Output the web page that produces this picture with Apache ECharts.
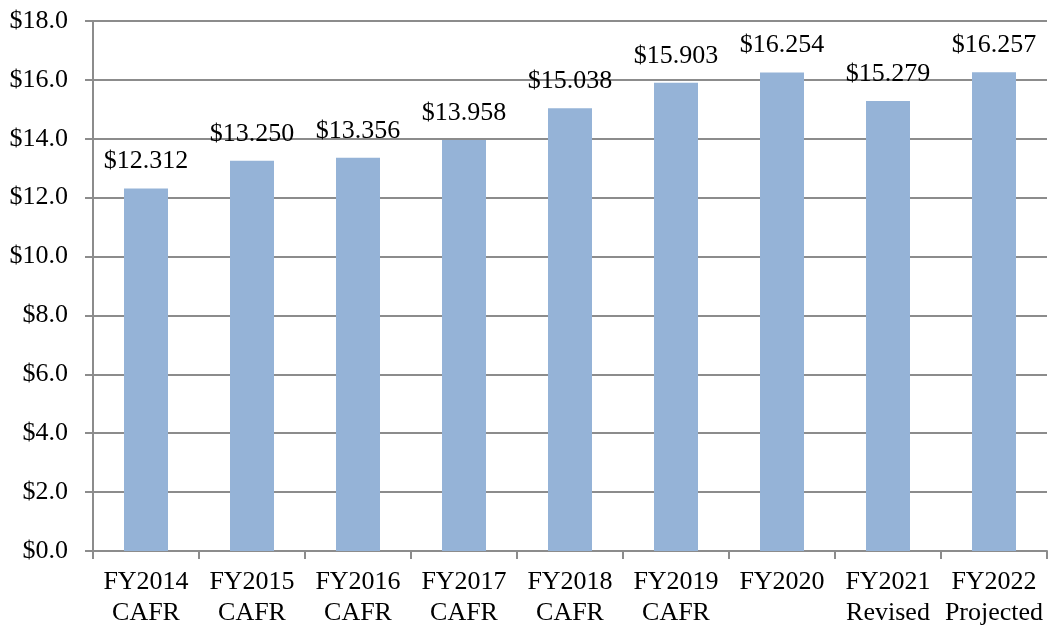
<!DOCTYPE html>
<html lang="en">
<head>
    <meta charset="UTF-8">
    <title>FY revenue</title>
    <script src="https://cdn.jsdelivr.net/npm/echarts@6/dist/echarts.min.js"></script>
    <style>
        html, body {margin: 0; padding: 0; background: #fff;}
    </style>
</head>
<body>
<div id="main" style="width: 1050px;height:630px;"></div>
<script>
    var categories = ['FY2014\nCAFR', 'FY2015\nCAFR', 'FY2016\nCAFR', 'FY2017\nCAFR', 'FY2018\nCAFR',
        'FY2019\nCAFR', 'FY2020', 'FY2021\nRevised', 'FY2022\nProjected'];
    var values = [12.312, 13.250, 13.356, 13.958, 15.038, 15.903, 16.254, 15.279, 16.257];

    var font = '"Liberation Serif", "DejaVu Serif", serif';
    var lineColor = '#8c8c8c';

    var myChart = echarts.init(document.getElementById('main'));
    var option = {
        animation: false,
        grid: {left: 93, right: 3, top: 21, bottom: 79},
        xAxis: [{
            type: 'category',
            data: categories,
            axisLine: {lineStyle: {color: lineColor, width: 2}},
            axisTick: {show: true, length: 8, alignWithLabel: false, lineStyle: {color: lineColor, width: 2}},
            axisLabel: {
                color: '#000', fontFamily: font, fontSize: 26, lineHeight: 31, margin: 16, interval: 0
            }
        }],
        yAxis: [{
            type: 'value',
            min: 0,
            max: 18,
            interval: 2,
            axisLine: {show: true, lineStyle: {color: lineColor, width: 2}},
            axisTick: {show: true, length: 8, lineStyle: {color: lineColor, width: 2}},
            splitLine: {show: true, lineStyle: {color: lineColor, width: 2}},
            axisLabel: {
                color: '#000', fontFamily: font, fontSize: 26, margin: 25,
                formatter: function (v) { return '$' + v.toFixed(1); }
            }
        }],
        series: [{
            type: 'bar',
            data: values,
            barWidth: 44,
            itemStyle: {color: '#95b3d7'},
            label: {
                show: true,
                position: 'top',
                distance: 14,
                color: '#000',
                fontFamily: font,
                fontSize: 26,
                formatter: function (p) { return '$' + p.value.toFixed(3); }
            }
        }]
    };
    myChart.setOption(option);
</script>
</body>
</html>
